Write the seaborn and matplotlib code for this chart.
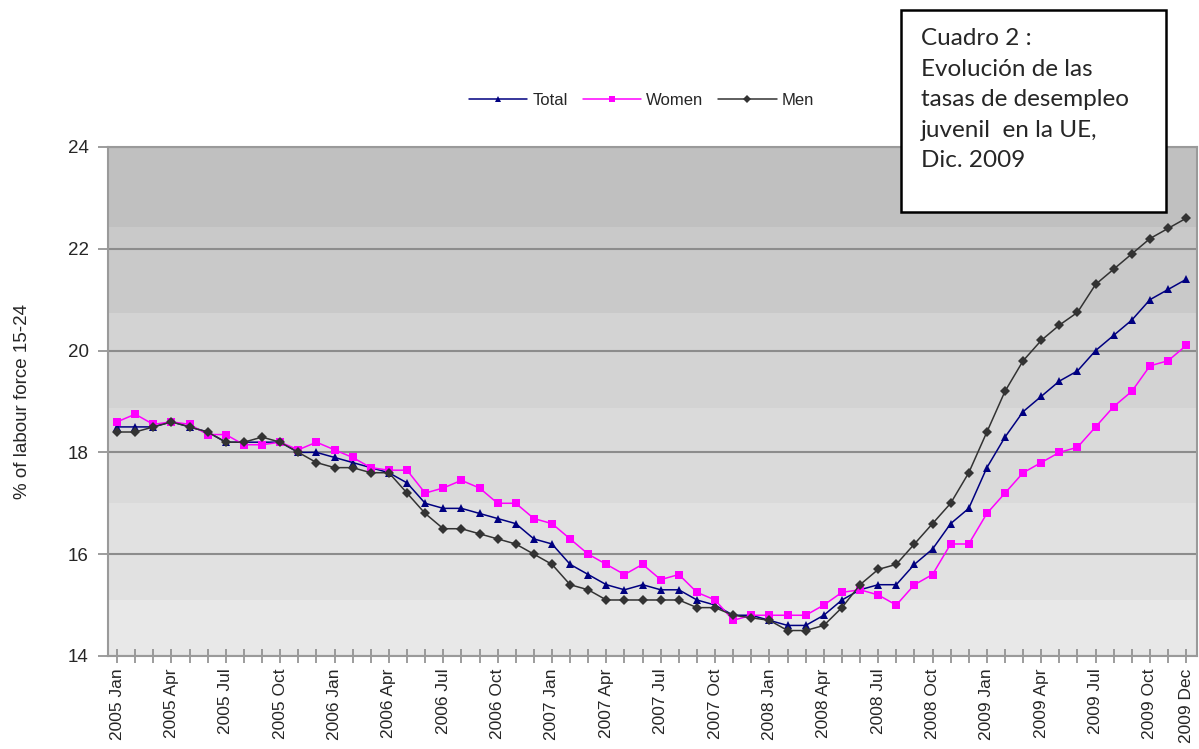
import matplotlib
matplotlib.use("Agg")
import matplotlib.pyplot as plt
from matplotlib.patches import Rectangle
import seaborn as sns
import pandas as pd

# --- data (monthly youth unemployment, EU, % of labour force 15-24) ---
years = ["2005", "2006", "2007", "2008", "2009"]
month_names = ["Jan", "Feb", "Mar", "Apr", "May", "Jun",
               "Jul", "Aug", "Sep", "Oct", "Nov", "Dec"]
months = [f"{y} {m}" for y in years for m in month_names]

total = [18.5, 18.5, 18.5, 18.6, 18.5, 18.4, 18.2, 18.2, 18.2, 18.2, 18.0, 18.0,
         17.9, 17.8, 17.7, 17.6, 17.4, 17.0, 16.9, 16.9, 16.8, 16.7, 16.6, 16.3,
         16.2, 15.8, 15.6, 15.4, 15.3, 15.4, 15.3, 15.3, 15.1, 15.0, 14.8, 14.8,
         14.7, 14.6, 14.6, 14.8, 15.1, 15.3, 15.4, 15.4, 15.8, 16.1, 16.6, 16.9,
         17.7, 18.3, 18.8, 19.1, 19.4, 19.6, 20.0, 20.3, 20.6, 21.0, 21.2, 21.4]
women = [18.6, 18.75, 18.55, 18.6, 18.55, 18.35, 18.35, 18.15, 18.15, 18.2, 18.05, 18.2,
         18.05, 17.9, 17.7, 17.65, 17.65, 17.2, 17.3, 17.45, 17.3, 17.0, 17.0, 16.7,
         16.6, 16.3, 16.0, 15.8, 15.6, 15.8, 15.5, 15.6, 15.25, 15.1, 14.7, 14.8,
         14.8, 14.8, 14.8, 15.0, 15.25, 15.3, 15.2, 15.0, 15.4, 15.6, 16.2, 16.2,
         16.8, 17.2, 17.6, 17.8, 18.0, 18.1, 18.5, 18.9, 19.2, 19.7, 19.8, 20.1]
men = [18.4, 18.4, 18.5, 18.6, 18.5, 18.4, 18.2, 18.2, 18.3, 18.2, 18.0, 17.8,
       17.7, 17.7, 17.6, 17.6, 17.2, 16.8, 16.5, 16.5, 16.4, 16.3, 16.2, 16.0,
       15.8, 15.4, 15.3, 15.1, 15.1, 15.1, 15.1, 15.1, 14.95, 14.95, 14.8, 14.75,
       14.7, 14.5, 14.5, 14.6, 14.95, 15.4, 15.7, 15.8, 16.2, 16.6, 17.0, 17.6,
       18.4, 19.2, 19.8, 20.2, 20.5, 20.75, 21.3, 21.6, 21.9, 22.2, 22.4, 22.6]

labelled_months = months[::3] + ["2009 Dec"]

df = pd.DataFrame({"month": months, "Total": total, "Women": women, "Men": men})
df["idx"] = range(len(df))
long_df = df.melt(id_vars=["idx", "month"], var_name="series", value_name="rate")

sns.set_style("white")
plt.rcParams["font.family"] = ["Liberation Sans", "DejaVu Sans"]

fig = plt.figure(figsize=(11.99, 7.49), dpi=100)
ax = fig.add_axes([0.0901, 0.1242, 0.9083, 0.6796])

# banded grey background
bands = [(14, 15.1, "#e8e8e8"), (15.1, 17.0, "#e1e1e1"), (17.0, 18.87, "#dadada"),
         (18.87, 20.74, "#d3d3d3"), (20.74, 22.43, "#c9c9c9"), (22.43, 24, "#c0c0c0")]
for lo, hi, c in bands:
    ax.axhspan(lo, hi, color=c, zorder=0, lw=0)

styles = {"Total": ("#000080", "^", 6),
          "Women": ("#ff00ff", "s", 6),
          "Men": ("#333333", "D", 5)}
for name, (col, mk, ms) in styles.items():
    sns.lineplot(data=long_df[long_df["series"] == name], x="idx", y="rate",
                 color=col, marker=mk, markersize=ms, markeredgewidth=0,
                 linewidth=1.1, label=name, ax=ax, zorder=3)

ax.set_xlim(-0.5, len(months) - 0.4)
ax.set_ylim(14, 24)
ax.set_yticks([14, 16, 18, 20, 22, 24])
ax.set_xticks(range(len(months)), minor=True)
ax.set_xticks([months.index(m) for m in labelled_months])
ax.set_xticklabels(labelled_months, rotation=90, fontsize=12.5)
ax.tick_params(axis="y", labelsize=13.5, direction="out", length=7, width=1.2,
               color="#8c8c8c", left=True, pad=7)
ax.tick_params(axis="x", which="both", direction="inout", length=10, width=1.2,
               color="#8c8c8c", bottom=True, pad=4)
ax.grid(axis="y", color="#8c8c8c", linewidth=1.5)
ax.grid(axis="x", visible=False)
ax.set_axisbelow(True)
for sp in ax.spines.values():
    sp.set_color("#9a9a9a")
    sp.set_linewidth(1.5)
ax.set_xlabel("")
ax.set_ylabel("% of labour force 15-24", fontsize=13.5, labelpad=26)

handles, labels = ax.get_legend_handles_labels()
ax.get_legend().remove()
fig.legend(handles, labels, loc="center", bbox_to_anchor=(0.535, 0.866), ncol=3,
           frameon=False, fontsize=12, handlelength=3.5, handletextpad=0.3,
           columnspacing=0.9, markerscale=0.8)

# text box in the top right corner
fig.add_artist(Rectangle((0.7515, 0.717), 0.221, 0.270, transform=fig.transFigure,
                         facecolor="white", edgecolor="black", linewidth=1.8, zorder=5))
fig.text(0.768, 0.962, "Cuadro 2 :\nEvolución de las\ntasas de desempleo\njuvenil  en la UE,\nDic. 2009",
         family=["Lato", "DejaVu Sans"], fontsize=17.5, va="top", ha="left",
         linespacing=1.55, zorder=6)

fig.savefig("out.png", dpi=100)
